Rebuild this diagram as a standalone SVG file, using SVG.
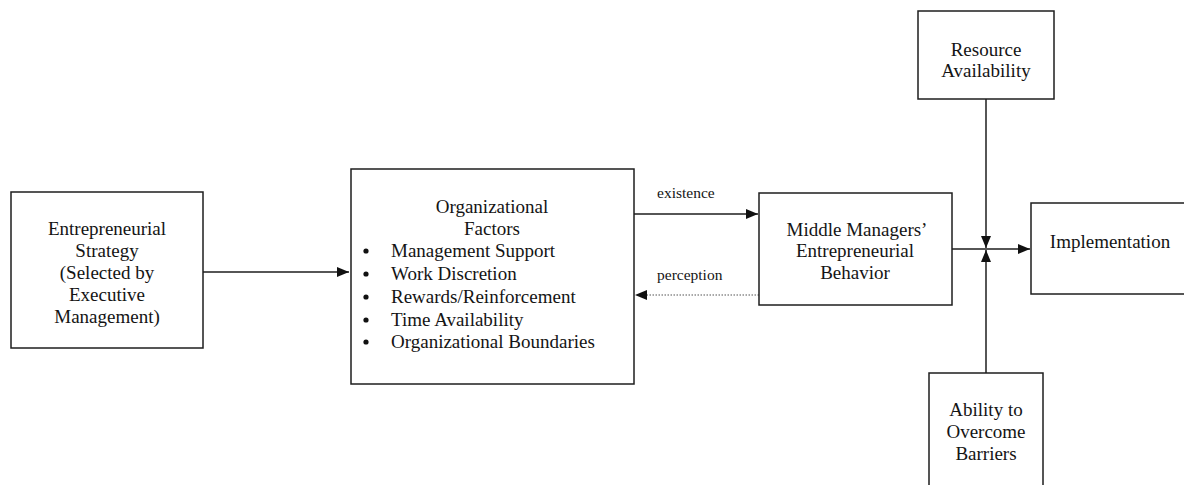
<svg xmlns="http://www.w3.org/2000/svg" width="1184" height="485" viewBox="0 0 1184 485">
<defs>
<style>
.box{fill:#fff;stroke:#1e1e1e;stroke-width:1.5}
.t{font-family:"Liberation Serif","Times New Roman",serif;font-size:19px;fill:#141414}
.c{text-anchor:middle}
.s{font-family:"Liberation Serif","Times New Roman",serif;font-size:15.5px;fill:#141414}
.ln{stroke:#1e1e1e;stroke-width:1.5;fill:none}
.dot{stroke:#555;stroke-width:1.2;stroke-dasharray:1.5 1.5;fill:none}
.ah{fill:#111}
</style>
<marker id="arr" viewBox="0 0 12 12" refX="12" refY="6" markerWidth="12" markerHeight="12" markerUnits="userSpaceOnUse" orient="auto">
<path d="M0,1 L12,6 L0,11 Z" fill="#111"/>
</marker>
</defs>
<rect width="1184" height="485" fill="#fff"/>
<g id="connectors">
<line class="ln" x1="203" y1="272" x2="349" y2="272" marker-end="url(#arr)"/>
<line class="ln" x1="634" y1="214" x2="758" y2="214" marker-end="url(#arr)"/>
<line class="dot" x1="759" y1="295" x2="645" y2="295"/>
<path class="ah" d="M635,295 L647,290 L647,300 Z"/>
<line class="ln" x1="952" y1="249" x2="1030" y2="249" marker-end="url(#arr)"/>
<line class="ln" x1="986" y1="99" x2="986" y2="248" marker-end="url(#arr)"/>
<line class="ln" x1="986" y1="373" x2="986" y2="250" marker-end="url(#arr)"/>
<text class="s" x="657" y="198">existence</text>
<text class="s" x="657" y="280">perception</text>
</g>
<g id="strategy">
<rect class="box" x="11" y="192" width="192" height="156"/>
<text class="t c" x="107" y="235">Entrepreneurial</text>
<text class="t c" x="107" y="257">Strategy</text>
<text class="t c" x="107" y="279">(Selected by</text>
<text class="t c" x="107" y="301">Executive</text>
<text class="t c" x="107" y="323">Management)</text>
</g>
<g id="org-factors">
<rect class="box" x="351" y="169" width="283" height="215"/>
<text class="t c" x="492" y="213">Organizational</text>
<text class="t c" x="492" y="235">Factors</text>
<g fill="#111">
<circle cx="366" cy="251" r="2.6"/>
<circle cx="366" cy="274" r="2.6"/>
<circle cx="366" cy="297" r="2.6"/>
<circle cx="366" cy="320" r="2.6"/>
<circle cx="366" cy="342" r="2.6"/>
</g>
<text class="t" x="391" y="257">Management Support</text>
<text class="t" x="391" y="280">Work Discretion</text>
<text class="t" x="391" y="303">Rewards/Reinforcement</text>
<text class="t" x="391" y="326">Time Availability</text>
<text class="t" x="391" y="348">Organizational Boundaries</text>
</g>
<g id="middle-managers">
<rect class="box" x="759" y="193" width="193" height="112"/>
<text class="t c" x="857" y="236">Middle Managers’</text>
<text class="t c" x="855" y="257">Entrepreneurial</text>
<text class="t c" x="855" y="279">Behavior</text>
</g>
<g id="implementation">
<rect class="box" x="1031" y="203" width="165" height="91"/>
<text class="t c" x="1110" y="248">Implementation</text>
</g>
<g id="resource">
<rect class="box" x="918" y="11" width="136" height="88"/>
<text class="t c" x="986" y="56">Resource</text>
<text class="t c" x="986" y="77">Availability</text>
</g>
<g id="ability">
<rect class="box" x="929" y="373" width="114" height="120"/>
<text class="t c" x="986" y="416">Ability to</text>
<text class="t c" x="986" y="438">Overcome</text>
<text class="t c" x="986" y="460">Barriers</text>
</g>
</svg>
